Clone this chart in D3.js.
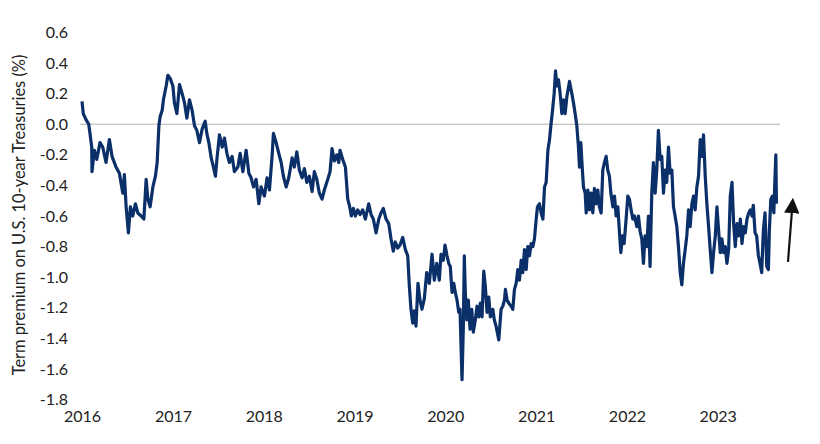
<!DOCTYPE html>
<html>
<head>
<meta charset="utf-8">
<script src="https://cdn.jsdelivr.net/npm/d3@7"></script>
<style>
  html, body { margin: 0; padding: 0; background: #fff; }
  svg { display: block; }
  text { font-family: Lato, "Noto Sans", sans-serif; fill: #222; }
</style>
</head>
<body>
<svg id="chart" width="820" height="444"></svg>
<script>
// ---- Data ----
const decimalYears = [
  2016.000,2016.014,2016.044,2016.074,2016.088,2016.107,2016.110,2016.135,2016.162,2016.198,
  2016.228,2016.264,2016.301,2016.330,2016.374,2016.411,2016.448,2016.466,2016.485,2016.510,
  2016.532,2016.558,2016.587,2016.613,2016.650,2016.680,2016.705,2016.724,2016.749,2016.779,
  2016.807,2016.826,2016.845,2016.859,2016.881,2016.895,2016.925,2016.944,2016.969,2016.999,
  2017.016,2017.043,2017.072,2017.101,2017.127,2017.153,2017.182,2017.211,2017.237,2017.263,
  2017.292,2017.322,2017.347,2017.355,2017.373,2017.395,2017.421,2017.446,2017.468,2017.484,
  2017.512,2017.542,2017.567,2017.594,2017.622,2017.652,2017.677,2017.715,2017.740,2017.770,
  2017.806,2017.836,2017.861,2017.887,2017.916,2017.946,2017.971,2018.008,2018.037,2018.063,
  2018.092,2018.107,2018.137,2018.166,2018.192,2018.217,2018.247,2018.276,2018.313,2018.338,
  2018.365,2018.393,2018.423,2018.448,2018.475,2018.503,2018.533,2018.558,2018.585,2018.613,
  2018.643,2018.668,2018.706,2018.731,2018.753,2018.779,2018.805,2018.827,2018.841,2018.871,
  2018.900,2018.926,2018.944,2018.966,2018.988,2019.010,2019.036,2019.062,2019.091,2019.120,
  2019.157,2019.183,2019.208,2019.238,2019.268,2019.293,2019.318,2019.348,2019.378,2019.403,
  2019.428,2019.450,2019.477,2019.502,2019.532,2019.561,2019.587,2019.605,2019.623,2019.642,
  2019.660,2019.678,2019.700,2019.722,2019.744,2019.770,2019.796,2019.825,2019.855,2019.880,
  2019.907,2019.935,2019.954,2019.979,2019.998,2020.020,2020.039,2020.056,2020.075,2020.094,
  2020.111,2020.130,2020.149,2020.163,2020.174,2020.185,2020.199,2020.210,2020.221,2020.237,
  2020.254,2020.273,2020.292,2020.309,2020.331,2020.350,2020.369,2020.386,2020.405,2020.424,
  2020.441,2020.460,2020.479,2020.496,2020.523,2020.540,2020.559,2020.589,2020.614,2020.633,
  2020.651,2020.662,2020.680,2020.699,2020.725,2020.743,2020.761,2020.780,2020.798,2020.816,
  2020.835,2020.853,2020.871,2020.890,2020.908,2020.926,2020.945,2020.963,2020.981,2021.000,
  2021.014,2021.036,2021.055,2021.074,2021.092,2021.110,2021.129,2021.147,2021.165,2021.180,
  2021.198,2021.213,2021.228,2021.246,2021.264,2021.283,2021.301,2021.319,2021.338,2021.367,
  2021.393,2021.411,2021.429,2021.448,2021.466,2021.477,2021.492,2021.507,2021.521,2021.540,
  2021.551,2021.569,2021.587,2021.606,2021.624,2021.642,2021.661,2021.679,2021.697,2021.716,
  2021.734,2021.752,2021.771,2021.789,2021.807,2021.823,2021.845,2021.863,2021.881,2021.900,
  2021.918,2021.933,2021.951,2021.969,2021.991,2022.010,2022.028,2022.046,2022.065,2022.083,
  2022.109,2022.127,2022.145,2022.164,2022.182,2022.200,2022.219,2022.237,2022.255,2022.274,
  2022.292,2022.311,2022.329,2022.347,2022.366,2022.384,2022.403,2022.421,2022.439,2022.458,
  2022.476,2022.495,2022.513,2022.531,2022.550,2022.568,2022.587,2022.605,2022.623,2022.642,
  2022.660,2022.679,2022.697,2022.716,2022.734,2022.752,2022.771,2022.789,2022.808,2022.826,
  2022.844,2022.863,2022.881,2022.900,2022.918,2022.937,2022.955,2022.974,2022.992,2023.010,
  2023.029,2023.047,2023.066,2023.084,2023.102,2023.121,2023.139,2023.158,2023.176,2023.194,
  2023.213,2023.231,2023.250,2023.268,2023.287,2023.305,2023.323,2023.342,2023.360,2023.379,
  2023.393,2023.412,2023.430,2023.449,2023.467,2023.485,2023.504,2023.522,2023.541,2023.559,
  2023.570,2023.586,2023.604,2023.619,2023.630,2023.641,2023.648
];
const premium = [
  0.15,0.07,0.03,0.00,-0.06,-0.15,-0.31,-0.17,-0.23,-0.12,
  -0.15,-0.25,-0.10,-0.21,-0.28,-0.32,-0.45,-0.33,-0.54,-0.71,
  -0.54,-0.60,-0.52,-0.58,-0.60,-0.62,-0.36,-0.49,-0.54,-0.41,
  -0.34,-0.25,-0.01,0.05,0.09,0.16,0.25,0.32,0.30,0.25,
  0.14,0.07,0.26,0.20,0.14,0.04,0.16,0.09,-0.01,-0.04,
  -0.12,-0.03,0.01,0.02,-0.06,-0.12,-0.22,-0.28,-0.34,-0.23,
  -0.07,-0.15,-0.09,-0.19,-0.25,-0.21,-0.31,-0.28,-0.19,-0.31,
  -0.17,-0.32,-0.35,-0.41,-0.36,-0.52,-0.41,-0.47,-0.35,-0.43,
  -0.21,-0.06,-0.12,-0.19,-0.25,-0.34,-0.41,-0.35,-0.22,-0.28,
  -0.18,-0.30,-0.35,-0.29,-0.38,-0.34,-0.44,-0.31,-0.36,-0.45,
  -0.49,-0.43,-0.36,-0.31,-0.16,-0.24,-0.20,-0.25,-0.17,-0.23,
  -0.28,-0.49,-0.53,-0.60,-0.55,-0.60,-0.56,-0.59,-0.56,-0.62,
  -0.52,-0.59,-0.62,-0.71,-0.62,-0.58,-0.55,-0.62,-0.65,-0.75,
  -0.83,-0.77,-0.81,-0.79,-0.74,-0.82,-0.86,-1.06,-1.21,-1.30,
  -1.22,-1.32,-1.04,-1.15,-1.21,-1.14,-0.97,-1.04,-0.85,-1.02,
  -0.91,-1.02,-0.85,-0.89,-0.79,-0.86,-0.91,-0.93,-1.10,-1.04,
  -1.10,-1.15,-1.23,-1.21,-1.45,-1.67,-1.33,-0.86,-1.10,-1.28,
  -1.15,-1.34,-1.21,-1.36,-1.28,-1.19,-1.26,-1.17,-1.26,-0.96,
  -1.06,-1.23,-1.13,-1.26,-1.21,-1.28,-1.32,-1.41,-1.21,-1.19,
  -1.15,-1.08,-1.15,-1.17,-1.19,-1.21,-1.08,-1.04,-0.95,-1.02,
  -0.89,-0.97,-0.82,-0.95,-0.80,-0.86,-0.78,-0.80,-0.75,-0.62,
  -0.54,-0.52,-0.58,-0.62,-0.41,-0.38,-0.17,-0.10,0.01,0.09,
  0.20,0.35,0.25,0.29,0.20,0.07,0.16,0.07,0.18,0.28,
  0.20,0.14,0.07,-0.01,-0.15,-0.28,-0.12,-0.28,-0.41,-0.45,
  -0.58,-0.43,-0.56,-0.45,-0.58,-0.42,-0.52,-0.43,-0.54,-0.58,
  -0.30,-0.25,-0.21,-0.30,-0.34,-0.45,-0.54,-0.47,-0.60,-0.54,
  -0.71,-0.84,-0.73,-0.78,-0.62,-0.47,-0.49,-0.56,-0.62,-0.60,
  -0.67,-0.60,-0.70,-0.75,-0.91,-0.73,-0.80,-0.60,-0.93,-0.45,
  -0.25,-0.45,-0.30,-0.04,-0.23,-0.21,-0.45,-0.30,-0.38,-0.15,
  -0.32,-0.30,-0.54,-0.60,-0.67,-0.80,-0.97,-1.05,-0.91,-0.82,
  -0.73,-0.56,-0.67,-0.52,-0.47,-0.56,-0.41,-0.34,-0.10,-0.21,
  -0.07,-0.34,-0.52,-0.67,-0.82,-0.97,-0.84,-0.73,-0.54,-0.69,
  -0.84,-0.75,-0.84,-0.80,-0.91,-0.82,-0.47,-0.38,-0.65,-0.80,
  -0.65,-0.73,-0.62,-0.78,-0.67,-0.71,-0.62,-0.58,-0.56,-0.60,
  -0.53,-0.71,-0.73,-0.86,-0.91,-0.97,-0.69,-0.58,-0.93,-0.95,
  -0.69,-0.49,-0.47,-0.58,-0.38,-0.20,-0.52
];
const yTicks = [0.6,0.4,0.2,0.0,-0.2,-0.4,-0.6,-0.8,-1.0,-1.2,-1.4,-1.6,-1.8];
const xTickYears = [2016,2017,2018,2019,2020,2021,2022,2023];
const yTitle = "Term premium on U.S. 10-year Treasuries (%)";
const arrowFrom = { t: 2023.775, v: -0.90 };
const arrowTo = { t: 2023.830, v: -0.48 };

// ---- helpers ----
function toDate(t) {
  const y = Math.floor(t);
  const a = new Date(y, 0, 1), b = new Date(y + 1, 0, 1);
  return new Date(+a + (t - y) * (b - a));
}
const data = decimalYears.map((t, i) => ({ date: toDate(t), value: premium[i] }));

const svg = d3.select("#chart");
const x = d3.scaleTime()
  .domain([new Date(2016, 0, 1), toDate(2023.687)])
  .range([82, 780]);
const y = d3.scaleLinear().domain([-1.8, 0.6]).range([399.5, 32.5]);

// zero line
svg.append("line")
  .attr("x1", x.range()[0] - 2).attr("x2", x.range()[1])
  .attr("y1", y(0)).attr("y2", y(0))
  .attr("stroke", "#b3b3b3").attr("stroke-width", 1);

// y axis
const yAxis = svg.append("g")
  .attr("transform", `translate(${x.range()[0]},0)`)
  .call(d3.axisLeft(y).tickValues(yTicks).tickSize(0).tickPadding(14)
    .tickFormat(v => v.toFixed(1)));
yAxis.select(".domain").remove();
yAxis.selectAll("text").style("font-size", "16px").style("font-family", "Lato, 'Noto Sans', sans-serif").attr("fill", "#222");

// x axis
const xAxis = svg.append("g")
  .attr("transform", `translate(0,${y.range()[0]})`)
  .call(d3.axisBottom(x).tickValues(xTickYears.map(yr => new Date(yr, 0, 1)))
    .tickSize(0).tickPadding(11).tickFormat(d3.timeFormat("%Y")));
xAxis.select(".domain").remove();
xAxis.selectAll("text").style("font-size", "16px").style("font-family", "Lato, 'Noto Sans', sans-serif").attr("fill", "#222");

// y title
svg.append("text")
  .attr("transform", "translate(25,215) rotate(-90)")
  .attr("text-anchor", "middle")
  .style("font-size", "16.4px")
  .text(yTitle);

// series line
svg.append("path")
  .datum(data)
  .attr("fill", "none")
  .attr("stroke", "#0b2f69")
  .attr("stroke-width", 3.2)
  .attr("stroke-linejoin", "round")
  .attr("d", d3.line().x(d => x(d.date)).y(d => y(d.value)));

// arrow annotation
svg.append("defs").append("marker")
  .attr("id", "ah").attr("viewBox", "0 0 10 10")
  .attr("refX", 1).attr("refY", 5)
  .attr("markerWidth", 7).attr("markerHeight", 7)
  .attr("markerUnits", "strokeWidth")
  .attr("orient", "auto")
  .append("path").attr("d", "M0,0 L10,5 L0,10 Z").attr("fill", "#111");

const ax1 = x(toDate(arrowFrom.t)), ay1 = y(arrowFrom.v);
const ax2 = x(toDate(arrowTo.t)), ay2 = y(arrowTo.v);
const len = Math.hypot(ax2 - ax1, ay2 - ay1);
const shorten = 14;
svg.append("line")
  .attr("x1", ax1).attr("y1", ay1)
  .attr("x2", ax2 - (ax2 - ax1) / len * shorten)
  .attr("y2", ay2 - (ay2 - ay1) / len * shorten)
  .attr("stroke", "#111").attr("stroke-width", 2.2)
  .attr("marker-end", "url(#ah)");
</script>
</body>
</html>
